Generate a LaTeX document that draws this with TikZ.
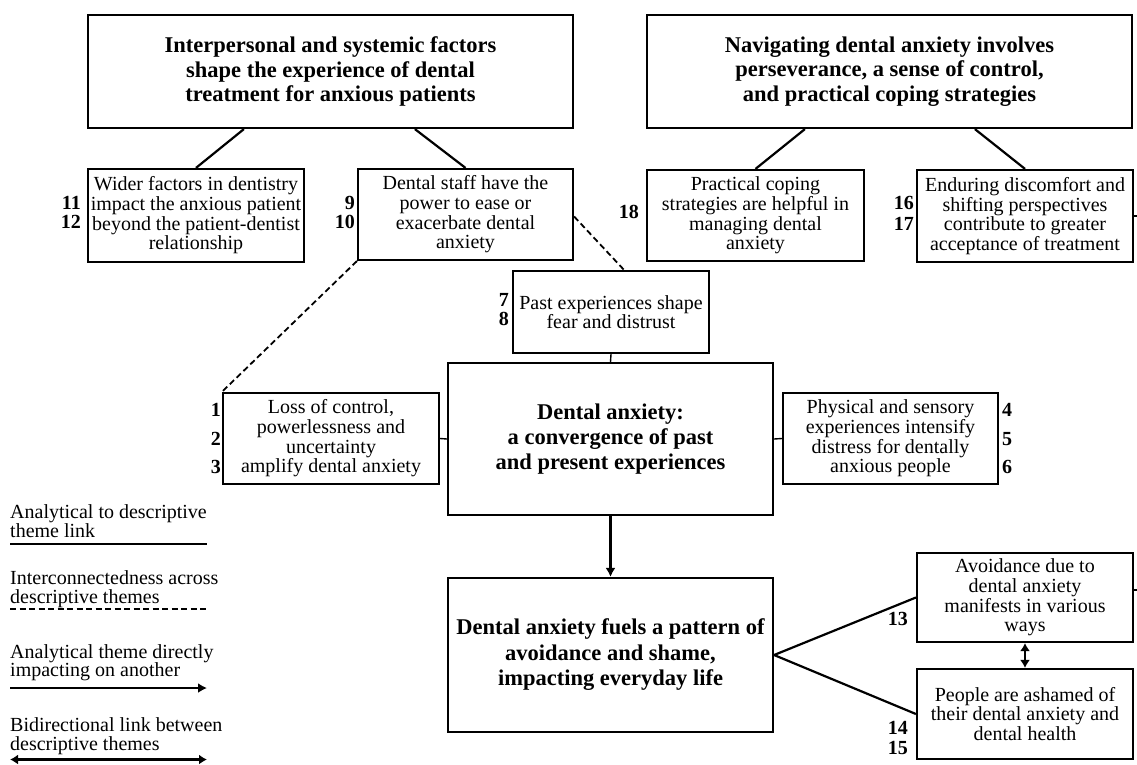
\documentclass[tikz,border=0pt]{standalone}
\usepackage{fontspec}
\setmainfont{Liberation Serif}
\usetikzlibrary{arrows.meta,calc}
\begin{document}
\begin{tikzpicture}[x=1pt,y=-1pt,
  box/.style={draw, line width=2.2pt, rectangle, inner sep=0pt, align=center, font=\fontsize{20}{19.7}\selectfont},
  title/.style={box, font=\fontsize{22.5}{24.5}\selectfont\bfseries},
  num/.style={font=\fontsize{20}{20}\selectfont\bfseries, inner sep=0pt, anchor=east},
  numw/.style={num, anchor=west},
  conn/.style={line width=2.2pt},
  thinl/.style={line width=1.4pt},
  dlink/.style={line width=1.8pt, dash pattern=on 6pt off 3.5pt},
  legtxt/.style={font=\fontsize{20}{18.5}\selectfont, align=left, inner sep=0pt, anchor=west},
  tip/.style={-{Latex[length=9pt,width=10pt]}},
  bitip/.style={{Latex[length=8pt,width=10pt]}-{Latex[length=8pt,width=10pt]}},
]
\useasboundingbox (0,0) rectangle (1137,764);

% analytical themes
\node[title, minimum width=485pt, minimum height=113pt] (T1) at (330.5,71.5)
  {Interpersonal and systemic factors\\shape the experience of dental\\treatment for anxious patients};
\node[title, minimum width=485pt, minimum height=113pt] (T2) at (889.5,71.5)
  {Navigating dental anxiety involves\\perseverance, a sense of control,\\and practical coping strategies};
\node[title, font=\fontsize{22.5}{25}\selectfont\bfseries, minimum width=325pt, minimum height=152pt] (C) at (610.5,439)
  {Dental anxiety:\\a convergence of past\\and present experiences};
\node[title, font=\fontsize{22.5}{25.5}\selectfont\bfseries, minimum width=325pt, minimum height=154pt] (D) at (610.5,655)
  {Dental anxiety fuels a pattern of\\avoidance and shame,\\impacting everyday life};

% descriptive themes
\node[box, minimum width=216pt, minimum height=93pt] (B11) at (196,215.5)
  {Wider factors in dentistry\\impact the anxious patient\\beyond the patient-dentist\\relationship};
\node[box, minimum width=215pt, minimum height=91pt] (B9) at (465.5,214.5)
  {Dental staff have the\\power to ease or\\exacerbate dental\\anxiety};
\node[box, minimum width=217pt, minimum height=91pt] (B18) at (755.5,215.5)
  {Practical coping\\strategies are helpful in\\managing dental\\anxiety};
\node[box, minimum width=216pt, minimum height=92pt] (B16) at (1025,216)
  {Enduring discomfort and\\shifting perspectives\\contribute to greater\\acceptance of treatment};
\node[box, minimum width=196pt, minimum height=82pt] (B7) at (611,312)
  {Past experiences shape\\fear and distrust};
\node[box, minimum width=216pt, minimum height=91pt] (B1) at (331,438.5)
  {Loss of control,\\powerlessness and\\uncertainty\\amplify dental anxiety};
\node[box, minimum width=215pt, minimum height=91pt] (B4) at (890.5,438.5)
  {Physical and sensory\\experiences intensify\\distress for dentally\\anxious people};
\node[box, minimum width=216pt, minimum height=89pt] (B13) at (1025,597.5)
  {Avoidance due to\\dental anxiety\\manifests in various\\ways};
\node[box, minimum width=216pt, minimum height=90pt] (B14) at (1025,714)
  {People are ashamed of\\their dental anxiety and\\dental health};

% numbers
\node[num] (n11) at (81,203) {11};
\node[num] (n12) at (81,222) {12};
\node[num] (n9) at (355,203) {9};
\node[num] (n10) at (355,222) {10};
\node[num] (n18) at (639,212) {18};
\node[num] (n16) at (914,203) {16};
\node[num] (n17) at (914,224) {17};
\node[num] (n7) at (509,300) {7};
\node[num] (n8) at (509,319) {8};
\node[num] (n1) at (221,410) {1};
\node[num] (n2) at (221,439) {2};
\node[num] (n3) at (221,467) {3};
\node[numw] (n4) at (1002,410) {4};
\node[numw] (n5) at (1002,439) {5};
\node[numw] (n6) at (1002,467) {6};
\node[num] (n13) at (908,619) {13};
\node[num] (n14) at (908,728) {14};
\node[num] (n15) at (908,748) {15};

% connectors
\draw[conn] ([xshift=157pt]T1.south west) -- (B11.north);
\draw[conn] ([xshift=328pt]T1.south west) -- (B9.north);
\draw[conn] ([xshift=159pt]T2.south west) -- (B18.north);
\draw[conn] ([xshift=329pt]T2.south west) -- (B16.north);
\draw[dlink] (B9.south west) -- (B1.north west);
\draw[dlink] ([yshift=-2pt]B9.east) -- ([xshift=13pt]B7.north);
\draw[thinl] (B7.south) -- (C.north);
\draw[thinl] (B1.east) -- (C.west);
\draw[thinl] (C.east) -- (B4.west);
\draw[conn, tip] (C.south) -- (D.north);
\draw[conn] (D.east) -- (B13.west);
\draw[conn] (D.east) -- (B14.west);
\draw[conn, bitip] (B13.south) -- (B14.north);
\coordinate (E1) at (1137,216);
\coordinate (E2) at (1137,590);
\draw[thinl] (B16.east) -- (E1);
\draw[thinl] ($(B13.east)+(0,-7.5)$) -- (E2);

% legend
\node[legtxt] (L1) at (10,521) {Analytical to descriptive\\theme link};
\coordinate (L1a) at (10,544); \coordinate (L1b) at (207,544);
\draw[conn] (L1a) -- (L1b);
\node[legtxt] (L2) at (10,589) {Interconnectedness across\\descriptive themes};
\coordinate (L2a) at (10,609); \coordinate (L2b) at (207,609);
\draw[dlink] (L2a) -- (L2b);
\node[legtxt] (L3) at (10,662.5) {Analytical theme directly\\impacting on another};
\coordinate (L3a) at (10,688); \coordinate (L3b) at (207,688);
\draw[conn, tip] (L3a) -- (L3b);
\node[legtxt] (L4) at (10,736) {Bidirectional link between\\descriptive themes};
\coordinate (L4a) at (10,759.5); \coordinate (L4b) at (207,759.5);
\draw[conn, bitip] (L4a) -- (L4b);
\end{tikzpicture}
\end{document}
